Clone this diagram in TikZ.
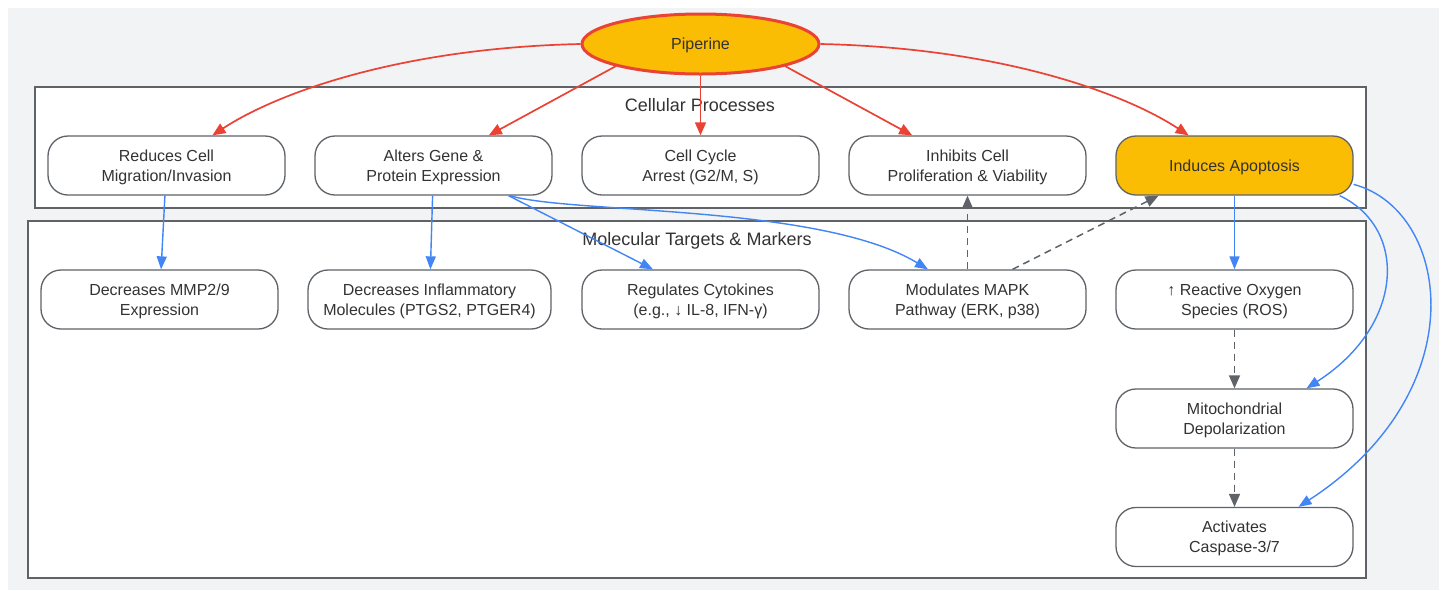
\documentclass[tikz,border=0pt]{standalone}
\usepackage{fontspec}
\setmainfont{Liberation Sans}
\usetikzlibrary{arrows.meta,shapes.geometric}
\definecolor{bgc}{HTML}{F1F3F4}
\definecolor{ylw}{HTML}{FBBC04}
\definecolor{rd}{HTML}{EA4335}
\definecolor{bl}{HTML}{4285F4}
\definecolor{gr}{HTML}{5F6368}
\definecolor{txt}{HTML}{333333}
\newcommand\mystrut{\rule[-4pt]{0pt}{19.5pt}}
\begin{document}
\begin{tikzpicture}[x=1pt,y=-1pt,
  font=\fontsize{16}{20}\selectfont, text=txt,
  box/.style={draw=gr, line width=1.3pt, rounded corners=20pt, fill=white,
    minimum width=237pt, minimum height=59pt, inner sep=0pt, align=center},
  hl/.style={box, fill=ylw},
  cluster/.style={draw=gr, line width=1.5pt, fill=white, inner sep=0pt},
  ctitle/.style={font=\fontsize{18}{22}\selectfont, anchor=base, inner sep=0pt},
  redarr/.style={draw=rd, line width=1.7pt, -{Triangle[length=13pt,width=11pt]}},
  bluearr/.style={draw=bl, line width=1.4pt, -{Triangle[length=13pt,width=10pt]}},
  dasharr/.style={draw=gr, line width=1.5pt, dash pattern=on 7pt off 5pt, -{Triangle[length=13pt,width=11pt]}}
]
\useasboundingbox (0,0) rectangle (1445,590);
\fill[bgc] (8,8) rectangle (1439,590);

% clusters
\node[cluster, minimum width=1331pt, minimum height=121pt] (c1) at (700.5,147.5) {};
\node[ctitle] (t1) at (700,111.5) {Cellular Processes};
\node[cluster, minimum width=1338pt, minimum height=357pt] (c2) at (697,399.5) {};
\node[ctitle] (t2) at (697,245) {Molecular Targets \& Markers};

% top node
\node[ellipse, draw=rd, line width=3pt, fill=ylw, minimum width=237pt, minimum height=60pt, inner sep=0pt] (pip) at (700.5,44) {\mystrut Piperine\mystrut};

% row 1
\node[box] (n1) at (166.5,165.5) {\mystrut Reduces Cell\\Migration/Invasion\mystrut};
\node[box] (n2) at (433.5,165.5) {\mystrut Alters Gene \&\\Protein Expression\mystrut};
\node[box] (n3) at (700.5,165.5) {\mystrut Cell Cycle\\Arrest (G2/M, S)\mystrut};
\node[box] (n4) at (967.5,165.5) {\mystrut Inhibits Cell\\Proliferation \& Viability\mystrut};
\node[hl] (n5) at (1234.5,165.5) {\mystrut Induces Apoptosis\mystrut};

% row 2
\node[box] (m1) at (159.5,299.5) {\mystrut Decreases MMP2/9\\Expression\mystrut};
\node[box, minimum width=243pt] (m2) at (429.5,299.5) {\mystrut Decreases Inflammatory\\Molecules (PTGS2, PTGER4)\mystrut};
\node[box] (m3) at (700.5,299.5) {\mystrut Regulates Cytokines\\(e.g., ↓ IL-8, IFN-γ)\mystrut};
\node[box] (m4) at (967.5,299.5) {\mystrut Modulates MAPK\\Pathway (ERK, p38)\mystrut};
\node[box] (m5) at (1234.5,299.5) {\mystrut ↑ Reactive Oxygen\\Species (ROS)\mystrut};
\node[box] (mit) at (1234.5,418.5) {\mystrut Mitochondrial\\Depolarization\mystrut};
\node[box] (cas) at (1234.5,537) {\mystrut Activates\\Caspase-3/7\mystrut};

% red edges
\draw[redarr] (pip.west) .. controls (400,48) and (277,93) .. (n1);
\draw[redarr] (pip.south west) -- (n2);
\draw[redarr] (pip) -- (n3);
\draw[redarr] (pip.south east) -- (n4);
\draw[redarr] (pip.east) .. controls (1001,48) and (1124,93) .. (n5);

% blue edges
\draw[bluearr] (n1) -- (m1);
\draw[bluearr] (n2) -- (m2);
\draw[bluearr] ([xshift=75pt]n2.south) -- ([xshift=-47.5pt]m3.north);
\draw[bluearr] ([xshift=76.5pt]n2.south) .. controls (570,214) and (820,204) .. ([xshift=-39.5pt]m4.north);
\draw[bluearr] (n5) -- (m5);
\draw[bluearr] (n5.-16) .. controls (1408,228) and (1405,325) .. ([xshift=72pt]mit.north);
\draw[bluearr] (n5.-9) .. controls (1450,210) and (1478,390) .. ([xshift=64pt]cas.north);

% dashed edges
\draw[dasharr] (m4) -- (n4);
\draw[dasharr] ([xshift=45pt]m4.north) -- ([xshift=-76pt]n5.south);
\draw[dasharr] (m5) -- (mit);
\draw[dasharr] (mit) -- (cas);
\end{tikzpicture}
\end{document}
